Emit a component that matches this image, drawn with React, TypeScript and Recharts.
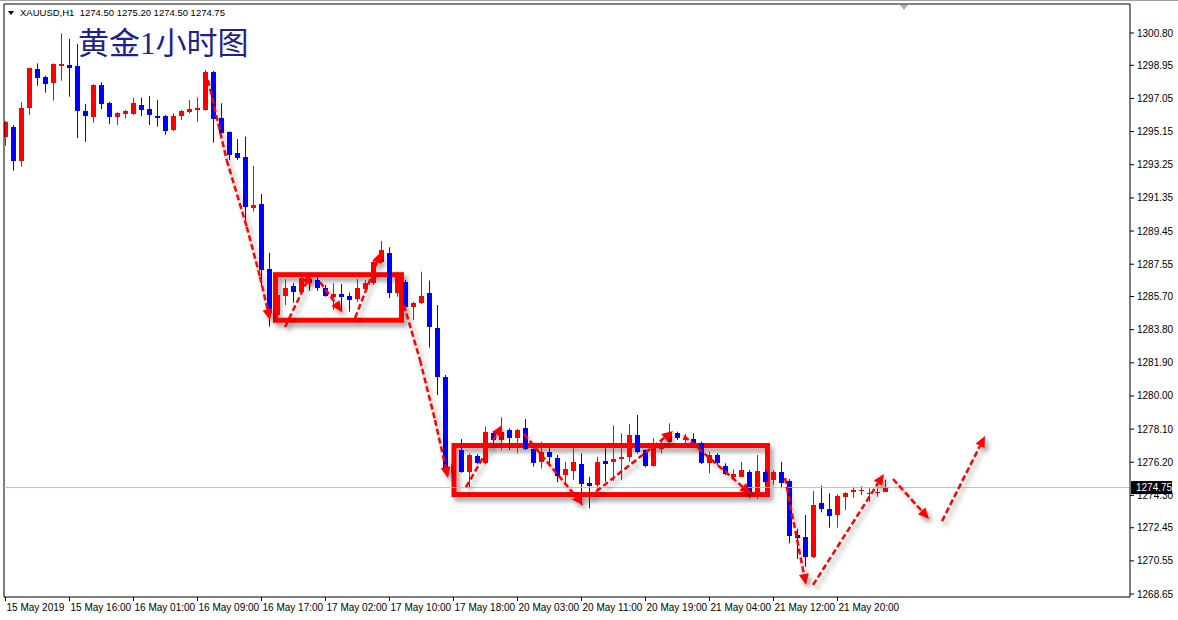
import React from 'react'
import { ComposedChart, Bar, XAxis, YAxis, ReferenceLine, ReferenceArea } from 'recharts'

// hourly XAUUSD candles
const opens = [
  1294.86, 1295.43, 1293.48, 1296.52, 1298.74, 1298.28, 1297.95, 1298.93, 1298.97, 1298.91,
  1296.33, 1296.0, 1297.82, 1296.77, 1296.0, 1296.18, 1296.16, 1296.67, 1296.44, 1296.04,
  1296.04, 1295.24, 1296.06, 1296.27, 1296.39, 1296.39, 1298.58, 1295.95, 1295.14, 1293.94,
  1293.71, 1290.79, 1291.0, 1287.28, 1284.64, 1285.75, 1286.3, 1285.98, 1286.69, 1286.65,
  1286.17, 1285.69, 1285.84, 1285.73, 1285.56, 1286.11, 1286.46, 1287.69, 1288.18, 1285.88,
  1286.55, 1285.12, 1285.31, 1285.88, 1283.88, 1281.1, 1275.6, 1276.9, 1275.66, 1276.58,
  1276.14, 1277.86, 1277.48, 1278.05, 1277.61, 1278.15, 1276.94, 1276.2, 1276.81, 1276.46,
  1275.47, 1275.7, 1276.08, 1275.03, 1274.9, 1276.27, 1276.2, 1276.4, 1276.52, 1277.76,
  1276.9, 1276.0, 1276.94, 1277.38, 1277.86, 1277.48, 1277.52, 1277.32, 1276.14, 1276.62,
  1275.99, 1275.37, 1275.37, 1275.66, 1274.51, 1275.66, 1275.18, 1275.66, 1275.13, 1272.03,
  1271.94, 1270.79, 1273.85, 1273.52, 1273.18, 1274.23, 1274.48, 1274.59, 1274.36, 1274.42,
  1274.5,
]
const highs = [
  1295.76, 1295.53, 1296.83, 1298.81, 1299.06, 1298.35, 1299.05, 1300.78, 1300.46, 1300.17,
  1296.73, 1297.86, 1297.97, 1296.86, 1296.26, 1296.39, 1297.09, 1297.09, 1297.19, 1296.96,
  1296.1, 1296.2, 1296.39, 1296.96, 1297.12, 1298.68, 1298.62, 1296.77, 1295.16, 1294.73,
  1294.86, 1293.18, 1291.57, 1288.21, 1285.96, 1286.69, 1286.46, 1287.06, 1287.03, 1286.83,
  1286.36, 1286.46, 1286.42, 1285.92, 1286.69, 1286.65, 1287.75, 1288.88, 1288.52, 1287.12,
  1286.65, 1285.4, 1287.12, 1286.61, 1285.21, 1281.2, 1276.3, 1277.53, 1276.71, 1276.66,
  1278.24, 1277.99, 1278.78, 1278.15, 1278.11, 1278.68, 1277.0, 1277.38, 1277.0, 1276.62,
  1276.23, 1277.09, 1276.71, 1275.37, 1276.52, 1277.0, 1278.32, 1277.86, 1278.39, 1278.91,
  1276.94, 1277.57, 1277.48, 1278.43, 1277.95, 1277.82, 1277.86, 1277.38, 1276.81, 1276.71,
  1276.14, 1275.8, 1276.23, 1275.76, 1276.62, 1275.76, 1275.76, 1276.23, 1275.24, 1272.38,
  1273.18, 1274.55, 1274.86, 1274.42, 1274.36, 1274.48, 1274.8, 1274.84, 1274.71, 1274.71,
  1275.2,
]
const lows = [
  1294.34, 1292.91, 1293.14, 1296.1, 1297.78, 1297.38, 1296.92, 1298.07, 1297.15, 1294.77,
  1294.57, 1295.66, 1296.44, 1295.59, 1295.53, 1295.91, 1296.1, 1296.04, 1295.53, 1295.43,
  1294.97, 1295.18, 1295.81, 1296.2, 1295.72, 1296.35, 1294.51, 1294.95, 1293.52, 1293.52,
  1289.76, 1290.56, 1286.26, 1283.97, 1284.47, 1285.21, 1285.34, 1285.88, 1286.03, 1286.02,
  1285.69, 1284.93, 1284.83, 1284.83, 1285.4, 1286.07, 1286.36, 1287.64, 1285.6, 1285.69,
  1284.93, 1284.35, 1285.27, 1282.77, 1280.05, 1275.57, 1275.2, 1275.6, 1274.71, 1276.08,
  1276.08, 1277.0, 1276.9, 1276.9, 1276.71, 1276.9, 1275.95, 1275.85, 1275.95, 1275.05,
  1274.99, 1275.18, 1273.75, 1273.56, 1274.55, 1275.09, 1275.13, 1275.18, 1276.23, 1276.71,
  1275.91, 1275.95, 1276.71, 1277.29, 1277.48, 1277.0, 1277.19, 1276.1, 1275.57, 1276.04,
  1275.47, 1275.18, 1275.35, 1274.14, 1274.08, 1274.9, 1274.9, 1274.71, 1271.56, 1270.66,
  1270.22, 1270.7, 1273.33, 1272.45, 1272.45, 1273.47, 1274.17, 1274.32, 1273.94, 1274.23,
  1274.5,
]
const closes = [
  1295.72, 1293.48, 1296.49, 1298.78, 1298.2, 1297.89, 1299.02, 1299.01, 1298.81, 1296.35,
  1296.06, 1297.82, 1296.75, 1296.0, 1296.2, 1296.33, 1296.79, 1296.39, 1296.1, 1295.95,
  1295.2, 1296.04, 1296.33, 1296.43, 1296.49, 1298.58, 1295.89, 1295.09, 1293.81, 1293.65,
  1290.85, 1290.94, 1287.22, 1284.74, 1285.79, 1286.17, 1285.98, 1286.74, 1286.46, 1286.17,
  1285.75, 1285.84, 1285.69, 1285.5, 1286.17, 1286.49, 1287.69, 1288.36, 1285.88, 1286.83,
  1285.08, 1285.31, 1285.73, 1283.97, 1281.1, 1275.76, 1276.1, 1275.66, 1276.62, 1276.14,
  1277.95, 1277.48, 1277.95, 1277.61, 1278.05, 1276.94, 1276.18, 1276.81, 1276.49, 1275.43,
  1275.81, 1276.2, 1274.94, 1274.86, 1276.23, 1276.12, 1276.39, 1276.49, 1277.76, 1276.81,
  1276.0, 1277.32, 1277.09, 1277.9, 1277.57, 1277.57, 1277.32, 1276.14, 1276.62, 1276.14,
  1275.53, 1275.53, 1275.76, 1274.51, 1275.7, 1275.09, 1275.66, 1275.03, 1271.99, 1271.84,
  1270.79, 1273.75, 1273.5, 1273.12, 1274.28, 1274.42, 1274.61, 1274.63, 1274.42, 1274.48,
  1274.75,
]

// one label every 8 bars
const timeLabels = [
  '15 May 2019', '15 May 16:00', '16 May 01:00', '16 May 09:00', '16 May 17:00',
  '17 May 02:00', '17 May 10:00', '17 May 18:00', '20 May 03:00', '20 May 11:00',
  '20 May 19:00', '21 May 04:00', '21 May 12:00', '21 May 20:00',
]
const priceTicks = [
  1300.8, 1298.95, 1297.05, 1295.15, 1293.25, 1291.35, 1289.45, 1287.55, 1285.7,
  1283.8, 1281.9, 1280.0, 1278.1, 1276.2, 1274.3, 1272.45, 1270.55, 1268.65,
]
const lastPrice = 1274.75

// hand drawn marks: consolidation boxes and dashed arrows (bar index, price)
const boxes = [
  { x1: 33.75, x2: 49.5, y1: 1284.34, y2: 1286.95 },
  { x1: 56.06, x2: 95.25, y1: 1274.35, y2: 1277.16 },
]
const arrows: [number, number][][] = [
  [[25.31, 1298.11], [27.65, 1293.52], [30.15, 1289.7], [31.81, 1286.83], [33.06, 1284.35]],
  [[34.94, 1283.95], [38.19, 1287.05]],
  [[39.31, 1286.53], [42.06, 1284.81]],
  [[43.69, 1284.47], [46.94, 1288.25]],
  [[49.81, 1285.21], [51.81, 1282.06], [53.69, 1278.62], [55.31, 1275.3]],
  [[57.56, 1274.78], [62.06, 1278.34]],
  [[64.81, 1277.82], [72.19, 1273.75]],
  [[72.94, 1274.21], [83.44, 1277.99]],
  [[84.81, 1277.71], [93.19, 1274.38]],
  [[97.44, 1275.3], [100.06, 1269.17]],
  [[100.94, 1269.17], [109.81, 1275.53]],
  [[110.94, 1275.24], [115.44, 1272.95]],
  [[117.06, 1272.83], [122.44, 1277.71]],
]

const UP = '#ff0000'
const DOWN = '#0000ff'
const MARK = '#ff0000'
const FONT = '"Liberation Sans", Arial, sans-serif'

const data = opens.map((o, i) => ({
  i,
  o,
  h: highs[i],
  l: lows[i],
  c: closes[i],
  range: [lows[i], highs[i]],
}))

const Candle = (props: any) => {
  const { x, y, width, height, payload } = props
  if (x == null || y == null) return null
  const top = Math.min(y, y + height)
  const span = Math.abs(height)
  const { o, h, l, c } = payload
  const py = (v: number) => top + ((h - v) / (h - l)) * span
  const cx = Math.round(x + width / 2 - 0.5) + 0.5
  const color = c >= o ? UP : DOWN
  const b1 = Math.round(py(Math.max(o, c)))
  const b2 = Math.round(py(Math.min(o, c)))
  return (
    <g>
      <line x1={cx} x2={cx} y1={top} y2={top + span} stroke={color} strokeWidth={1} />
      <rect x={cx - 2.5} y={b1} width={5} height={Math.max(1, b2 - b1)} fill={color} />
    </g>
  )
}

const XTick = (props: any) => {
  const { x, y, payload } = props
  const label = timeLabels[Math.round(payload.value / 8)]
  return (
    <text x={x + 1} y={y + 8} fontSize={10} fontFamily={FONT} fill="#000" textAnchor="start">
      {label}
    </text>
  )
}

const YTick = (props: any) => {
  const { x, y, payload } = props
  return (
    <text x={x + 1} y={y + 3.5} fontSize={10} fontFamily={FONT} fill="#000" textAnchor="start">
      {Number(payload.value).toFixed(2)}
    </text>
  )
}

const PriceTag = (props: any) => {
  const vb = props.viewBox
  if (!vb) return null
  const x = vb.x + vb.width + 1
  const y = vb.y
  return (
    <g>
      <rect x={x} y={y - 6.5} width={41} height={13} fill="#000" />
      <text x={x + 5} y={y + 3.5} fontSize={10} fontFamily={FONT} fill="#fff">
        {lastPrice.toFixed(2)}
      </text>
    </g>
  )
}

const BoxShape = (props: any) => {
  const { x, y, width, height } = props
  return (
    <rect
      x={x}
      y={y}
      width={width}
      height={height}
      fill="none"
      stroke={MARK}
      strokeWidth={5}
      filter="url(#markShadow)"
    />
  )
}

const arrowShape = (head: boolean) => (props: any) => {
  const { x1, y1, x2, y2 } = props
  if ([x1, y1, x2, y2].some((v) => v == null || Number.isNaN(v))) return null
  const dx = x2 - x1
  const dy = y2 - y1
  const len = Math.hypot(dx, dy) || 1
  const ux = dx / len
  const uy = dy / len
  const hl = 11
  const hw = 5
  const bx = x2 - ux * hl
  const by = y2 - uy * hl
  return (
    <g filter="url(#markShadow)">
      <line
        x1={x1}
        y1={y1}
        x2={head ? bx : x2}
        y2={head ? by : y2}
        stroke={MARK}
        strokeWidth={2.5}
        strokeDasharray="6 3"
      />
      {head && (
        <polygon
          points={`${x2},${y2} ${bx - uy * hw},${by + ux * hw} ${bx + uy * hw},${by - ux * hw}`}
          fill={MARK}
        />
      )}
    </g>
  )
}

const xDomain = [-0.1875, 140.5625]
const yDomain = [1268.479, 1302.462]

const App = () => {
  const segments: { a: [number, number]; b: [number, number]; head: boolean; key: string }[] = []
  arrows.forEach((pts, k) => {
    for (let j = 0; j < pts.length - 1; j++) {
      segments.push({ a: pts[j], b: pts[j + 1], head: j === pts.length - 2, key: `a${k}-${j}` })
    }
  })

  return (
    <div
      style={{
        position: 'absolute',
        left: 0,
        top: 0,
        width: 1178,
        height: 620,
        background: '#fff',
        overflow: 'hidden',
        borderTop: '1px solid #a0a0a0',
        boxSizing: 'border-box',
      }}
    >
      <svg width={0} height={0} style={{ position: 'absolute' }}>
        <defs>
          <filter id="markShadow" filterUnits="userSpaceOnUse" x={0} y={0} width={1178} height={620}>
            <feDropShadow dx={3} dy={4} stdDeviation={2.5} floodColor="#000" floodOpacity={0.4} />
          </filter>
        </defs>
      </svg>

      <ComposedChart
        width={1178}
        height={619}
        data={data}
        margin={{ top: 3, right: 0, bottom: 0, left: 4 }}
      >
        <XAxis
          type="number"
          dataKey="i"
          domain={xDomain}
          allowDataOverflow
          ticks={timeLabels.map((_, k) => k * 8)}
          interval={0}
          height={23}
          tickSize={4}
          tickMargin={2}
          axisLine={{ stroke: '#000' }}
          tickLine={{ stroke: '#000' }}
          tick={<XTick />}
        />
        <YAxis
          orientation="right"
          domain={yDomain}
          allowDataOverflow
          ticks={priceTicks}
          interval={0}
          width={48}
          tickSize={4}
          tickMargin={2}
          axisLine={{ stroke: '#000' }}
          tickLine={{ stroke: '#000' }}
          tick={<YTick />}
        />
        <ReferenceLine x={xDomain[0]} stroke="#000" />
        <ReferenceLine y={yDomain[1]} stroke="#000" />
        <ReferenceLine y={lastPrice} stroke="#c0c0c0" label={<PriceTag />} />
        <Bar dataKey="range" barSize={5} isAnimationActive={false} shape={<Candle />} />
        {boxes.map((b, k) => (
          <ReferenceArea
            key={`b${k}`}
            x1={b.x1}
            x2={b.x2}
            y1={b.y1}
            y2={b.y2}
            shape={<BoxShape />}
          />
        ))}
        {segments.map((s) => (
          <ReferenceLine
            key={s.key}
            segment={[
              { x: s.a[0], y: s.a[1] },
              { x: s.b[0], y: s.b[1] },
            ]}
            shape={arrowShape(s.head)}
          />
        ))}
      </ComposedChart>

      <div
        style={{
          position: 'absolute',
          left: 8,
          top: 10,
          width: 0,
          height: 0,
          borderLeft: '3.5px solid transparent',
          borderRight: '3.5px solid transparent',
          borderTop: '4px solid #000',
        }}
      />
      <div
        style={{
          position: 'absolute',
          left: 900,
          top: 4,
          width: 0,
          height: 0,
          borderLeft: '4px solid transparent',
          borderRight: '4px solid transparent',
          borderTop: '5px solid #b0b0b0',
        }}
      />
      <div
        style={{
          position: 'absolute',
          left: 20,
          top: 6,
          fontFamily: FONT,
          fontSize: 9.5,
          lineHeight: '12px',
          color: '#000',
          whiteSpace: 'pre',
        }}
      >
        {'XAUUSD,H1  1274.50 1275.20 1274.50 1274.75'}
      </div>
      <div
        style={{
          position: 'absolute',
          left: 78,
          top: 27,
          fontFamily: '"Liberation Serif", "Noto Sans CJK SC", serif',
          fontSize: 31,
          lineHeight: '31px',
          color: '#1f1f8f',
          whiteSpace: 'nowrap',
        }}
      >
        黄金1小时图
      </div>
    </div>
  )
}

export default App
